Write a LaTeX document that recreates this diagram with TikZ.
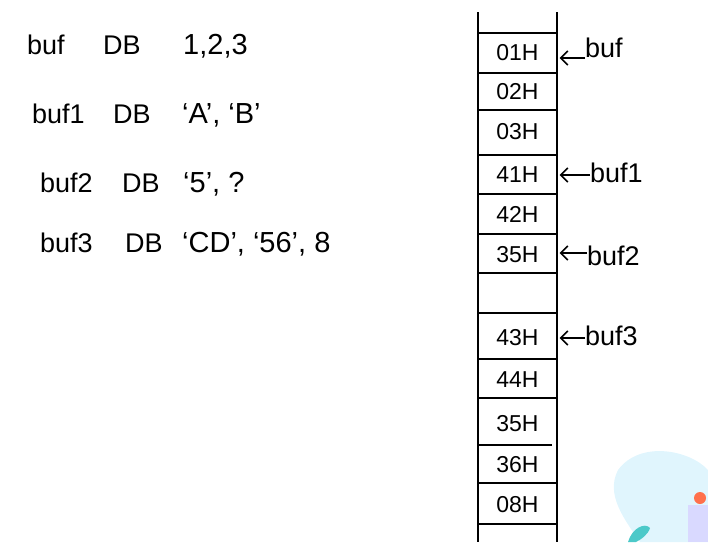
\documentclass[tikz,border=0pt]{standalone}
\usepackage{fontspec}
\setmainfont{Liberation Sans}
\usetikzlibrary{arrows.meta}
\begin{document}
\begin{tikzpicture}[x=1pt,y=-1pt,
  decl/.style={anchor=base west,font=\fontsize{27}{30}\selectfont,inner sep=0pt},
  vals/.style={decl,font=\fontsize{29}{32}\selectfont},
  cell/.style={minimum width=80pt,minimum height=36pt,inner sep=0pt,font=\fontsize{23}{26}\selectfont},
  mem/.style={line width=2pt,black},
  ptr/.style={line width=1.6pt,-{Straight Barb[length=7pt,width=14pt]}},
  plbl/.style={anchor=west,font=\fontsize{27}{30}\selectfont,inner sep=0pt}]
\useasboundingbox (0,0) rectangle (708,542);
% declarations
\node[decl] (n1) at (27,54) {buf};
\node[decl] (d1) at (103,54) {DB};
\node[vals] (v1) at (183,54) {1,2,3};
\node[decl] (n2) at (32,123) {buf1};
\node[decl] (d2) at (113,123) {DB};
\node[vals] (v2) at (182,123) {‘A’, ‘B’};
\node[decl] (n3) at (40,192) {buf2};
\node[decl] (d3) at (122,192) {DB};
\node[vals] (v3) at (183,192) {‘5’, ?};
\node[decl] (n4) at (40,252) {buf3};
\node[decl] (d4) at (125,252) {DB};
\node[vals] (v4) at (182,252) {‘CD’, ‘56’, 8};
% memory column
\draw[mem] (478,12) -- (478,542);
\draw[mem] (557,12) -- (557,542);
\foreach \yy in {33,73,110,155,194,234,273,313,359,398,483,524}
  \draw[mem] (478,\yy) -- (557,\yy);
\draw[mem] (478,445) -- (552,445);
% cells
\node[cell] (c1) at (517.5,53) {01H};
\node[cell] (c2) at (517.5,92) {02H};
\node[cell] (c3) at (517.5,132) {03H};
\node[cell] (c4) at (517.5,175) {41H};
\node[cell] (c5) at (517.5,214) {42H};
\node[cell] (c6) at (517.5,255) {35H};
\node[cell] (c7) at (517.5,293) {};
\node[cell] (c8) at (517.5,338) {43H};
\node[cell] (c9) at (517.5,380) {44H};
\node[cell] (c10) at (517.5,424) {35H};
\node[cell] (c11) at (517.5,465) {36H};
\node[cell] (c12) at (517.5,505) {08H};
% pointers
\node[plbl] (p1) at (585,48) {buf};
\node[plbl] (p2) at (590,173) {buf1};
\node[plbl] (p3) at (587,256) {buf2};
\node[plbl] (p4) at (585,336) {buf3};
\coordinate (a1) at ([xshift=2pt,yshift=-5pt]c1.east);
\coordinate (a2) at ([xshift=2pt]c4.east);
\coordinate (a3) at ([xshift=2pt,yshift=2pt]c6.east);
\coordinate (a4) at ([xshift=2pt]c8.east);
\draw[ptr] (p1.west |- a1) -- (a1);
\draw[ptr] (p2.west |- a2) -- (a2);
\draw[ptr] (p3.west |- a3) -- (a3);
\draw[ptr] (p4.west |- a4) -- (a4);
% watermark decoration (bottom right)
\fill[cyan!12] (618,470) .. controls (640,440) and (690,450) .. (708,470) -- (708,542) -- (640,542) .. controls (625,520) and (605,495) .. (618,470) -- cycle;
\fill[teal!60!cyan!70] (628,542) .. controls (632,528) and (645,522) .. (650,528) .. controls (648,535) and (640,540) .. (636,542) -- cycle;
\fill[red!60!orange!70] (700,498) circle (6);
\fill[blue!15] (688,505) rectangle (708,542);
\end{tikzpicture}
\end{document}
